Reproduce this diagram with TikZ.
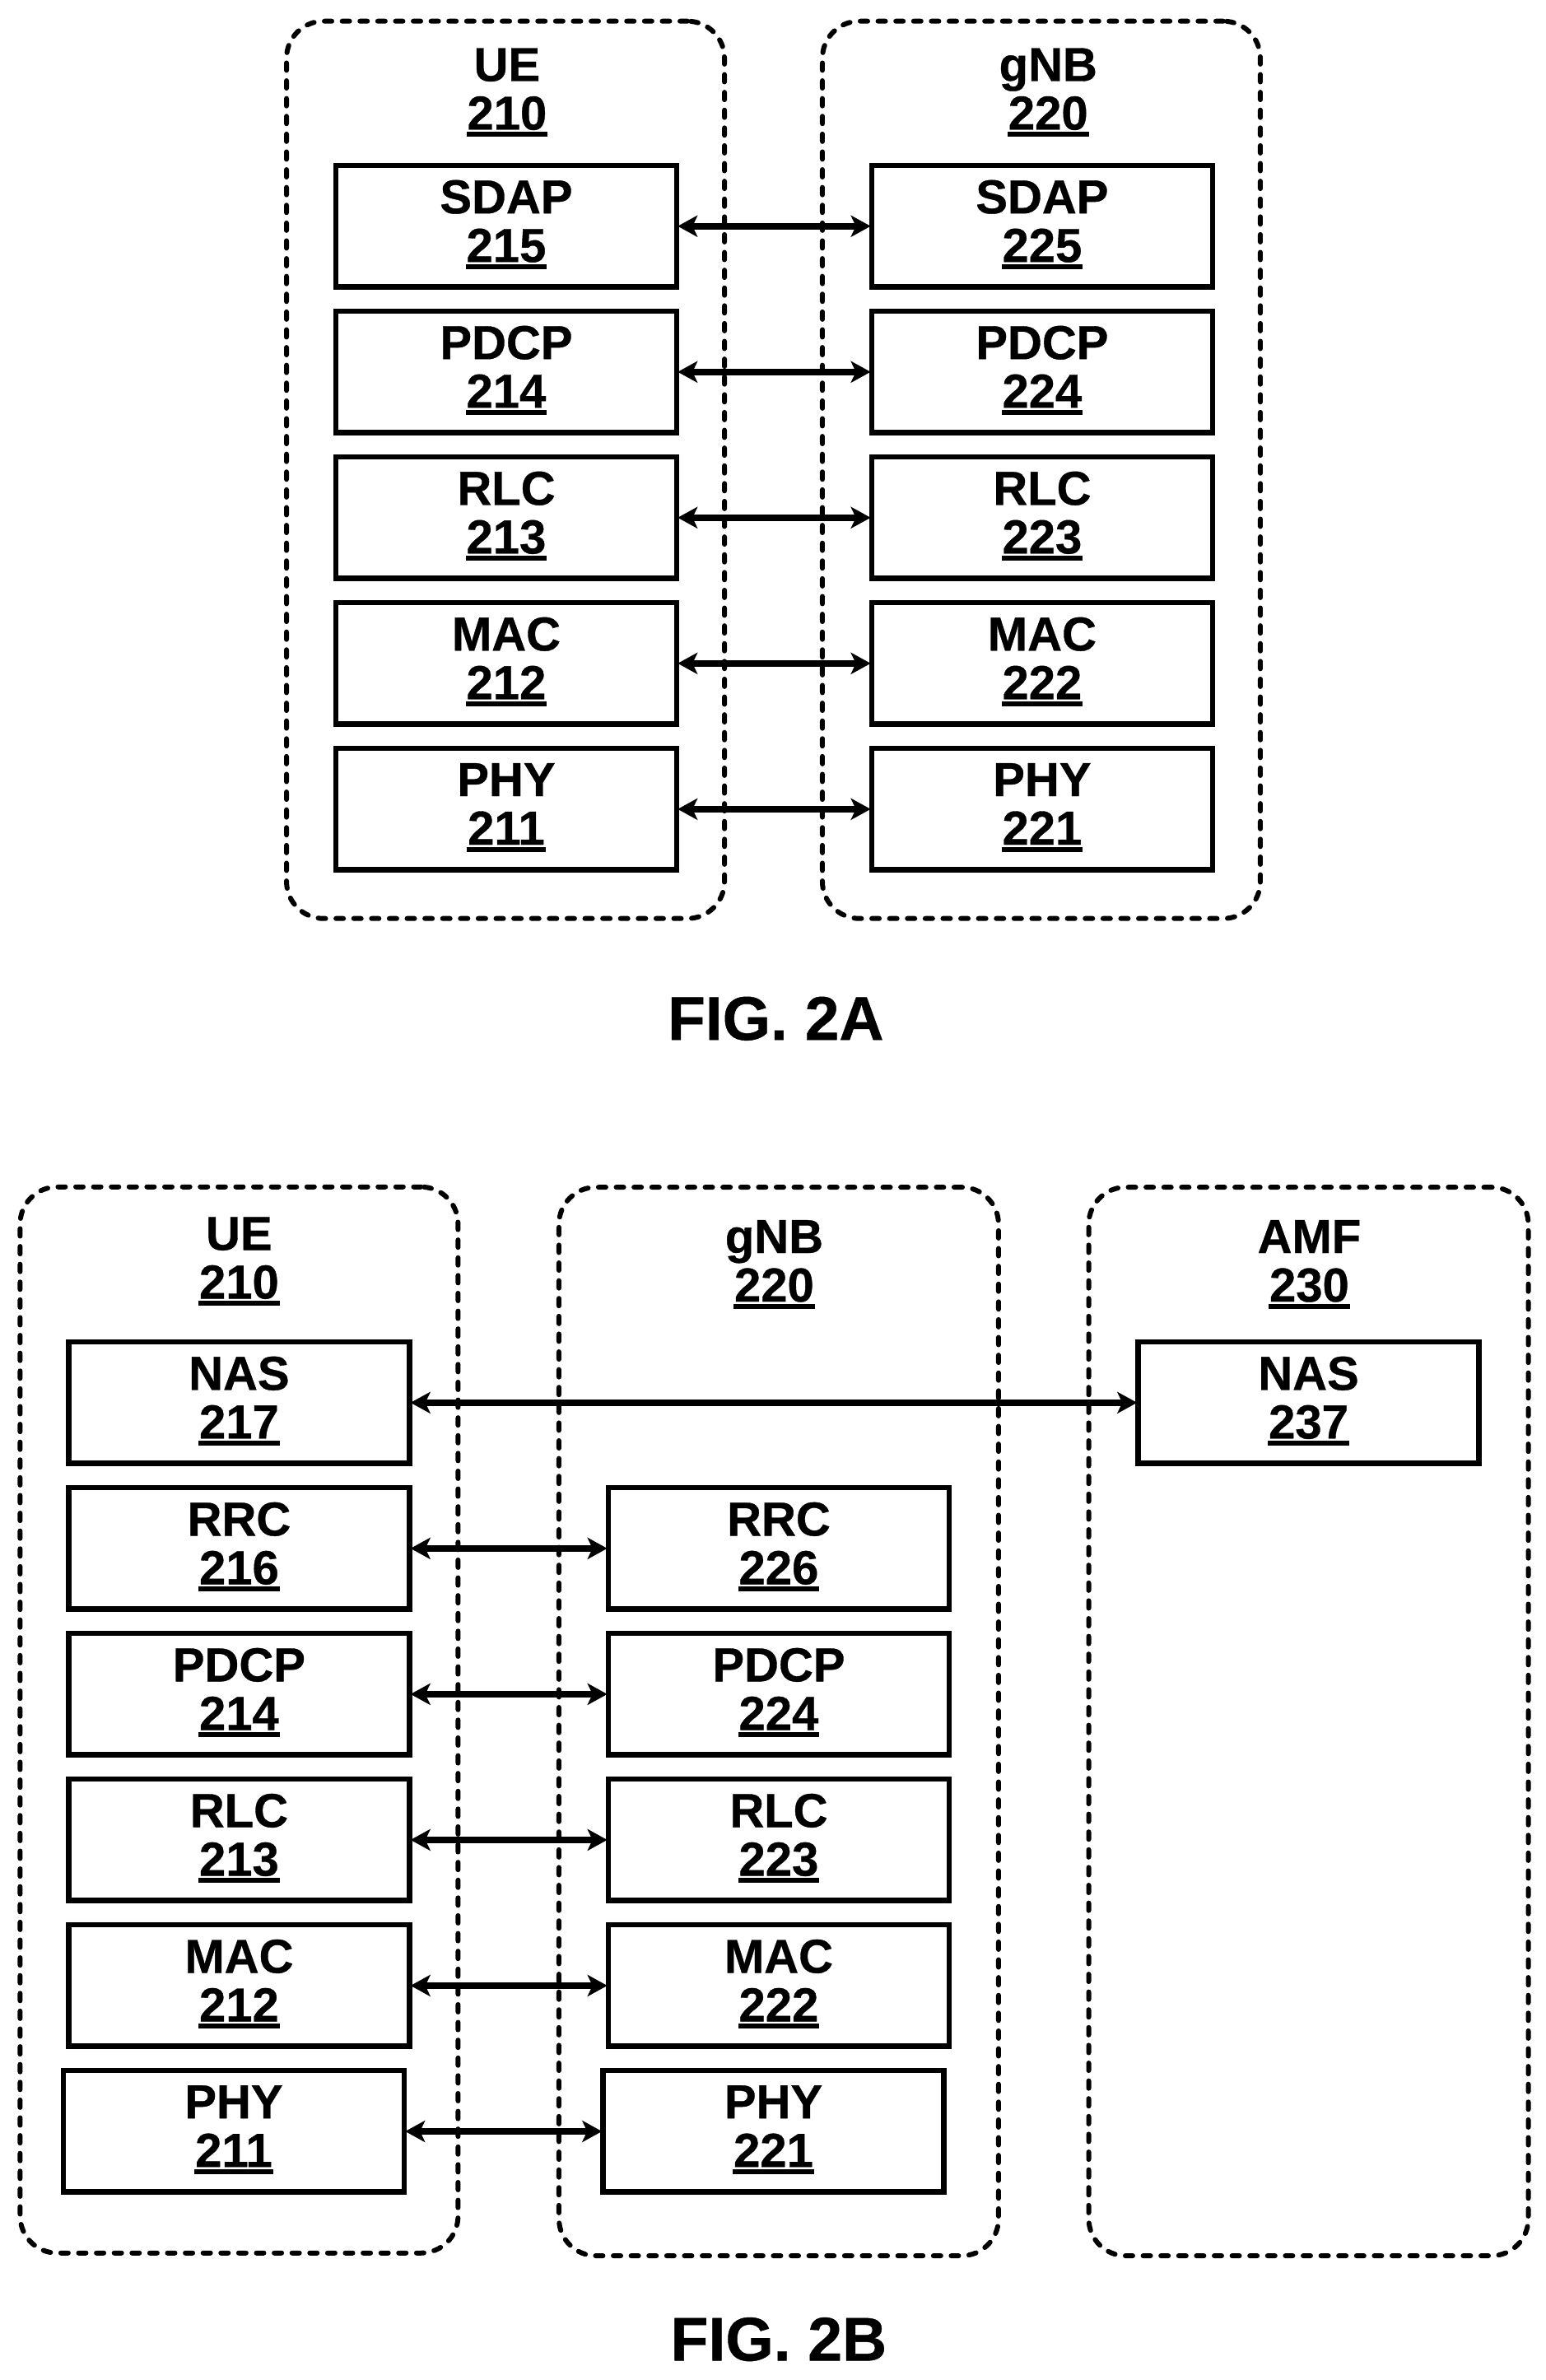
\documentclass[tikz,border=0pt]{standalone}
\usepackage{fontspec}
\setmainfont[BoldFeatures={FakeBold=0.6}]{Liberation Sans}
\usetikzlibrary{arrows.meta}
\newcommand\ulnum[1]{\setbox0\hbox{#1}\hbox{\rlap{\copy0}\rlap{\kern-1pt\lower9pt\hbox{\vrule width\dimexpr\wd0+2pt\relax height6pt depth0pt}}\kern\wd0\vrule width0pt depth12.6pt}}
\newcommand\lbl[2]{#1\\[0pt]\ulnum{#2}}
\tikzset{
  x=1.844pt,y=-1.844pt,
  base/.style={font=\bfseries\fontsize{58}{59}\selectfont,align=center,inner sep=0pt},
  group/.style={draw,rectangle,line width=6pt,rounded corners=45pt,dash pattern=on 9pt off 12.6pt,line cap=round,inner sep=0pt},
  blk/.style={base,draw,line width=6.5pt,rectangle,minimum width=414pt,minimum height=147.5pt,line join=miter},
  txt/.style={base},
  link/.style={line width=7.5pt,{Stealth[length=24pt,width=26pt,inset=6pt]}-{Stealth[length=24pt,width=26pt,inset=6pt]},shorten <=-2pt,shorten >=-2pt},
  figcap/.style={font=\bfseries\fontsize{75}{76}\selectfont,inner sep=0pt}
}
\begin{document}
\begin{tikzpicture}
\useasboundingbox (0,0) rectangle (1018.44,1567.8);
% FIG 2A groups
\node[group,minimum width=532pt,minimum height=1090pt] (ueA) at (333,309.5) {};
\node[group,minimum width=532pt,minimum height=1090pt] (gnbA) at (686,309.5) {};
\node[txt] (ueAt) at (334,62) {\lbl{UE}{210}};
\node[txt] (gnbAt) at (690.5,62) {\lbl{gNB}{220}};
% FIG 2A blocks
\node[blk] (a215) at (333.5,149) {\lbl{SDAP}{215}};
\node[blk] (a214) at (333.5,245) {\lbl{PDCP}{214}};
\node[blk] (a213) at (333.5,341) {\lbl{RLC}{213}};
\node[blk] (a212) at (333.5,437) {\lbl{MAC}{212}};
\node[blk] (a211) at (333.5,533) {\lbl{PHY}{211}};
\node[blk] (a225) at (686.5,149) {\lbl{SDAP}{225}};
\node[blk] (a224) at (686.5,245) {\lbl{PDCP}{224}};
\node[blk] (a223) at (686.5,341) {\lbl{RLC}{223}};
\node[blk] (a222) at (686.5,437) {\lbl{MAC}{222}};
\node[blk] (a221) at (686.5,533) {\lbl{PHY}{221}};
\foreach \u/\g in {a215/a225,a214/a224,a213/a223,a212/a222,a211/a221}
  \draw[link] (\u.east) -- (\g.west);
\node[figcap] (figA) at (511,671) {FIG. 2A};
% FIG 2B groups
\node[group,minimum width=532pt,minimum height=1295pt] (ueB) at (157.5,1133) {};
\node[group,minimum width=534pt,minimum height=1298pt] (gnbB) at (513,1134) {};
\node[group,minimum width=534pt,minimum height=1298pt] (amfB) at (862,1134) {};
\node[txt] (ueBt) at (157.5,832) {\lbl{UE}{210}};
\node[txt] (gnbBt) at (510,834) {\lbl{gNB}{220}};
\node[txt] (amfBt) at (862.5,834) {\lbl{AMF}{230}};
% FIG 2B blocks
\node[blk] (b217) at (157.5,924) {\lbl{NAS}{217}};
\node[blk] (b216) at (157.5,1020) {\lbl{RRC}{216}};
\node[blk] (b214) at (157.5,1116) {\lbl{PDCP}{214}};
\node[blk] (b213) at (157.5,1212) {\lbl{RLC}{213}};
\node[blk] (b212) at (157.5,1308) {\lbl{MAC}{212}};
\node[blk] (b211) at (154,1404) {\lbl{PHY}{211}};
\node[blk] (b226) at (513,1020) {\lbl{RRC}{226}};
\node[blk] (b224) at (513,1116) {\lbl{PDCP}{224}};
\node[blk] (b223) at (513,1212) {\lbl{RLC}{223}};
\node[blk] (b222) at (513,1308) {\lbl{MAC}{222}};
\node[blk] (b221) at (509.5,1404) {\lbl{PHY}{221}};
\node[blk] (b237) at (862,924) {\lbl{NAS}{237}};
\foreach \u/\g in {b217/b237,b216/b226,b214/b224,b213/b223,b212/b222,b211/b221}
  \draw[link] (\u.east) -- (\g.west);
\node[figcap] (figB) at (513,1541) {FIG. 2B};
\end{tikzpicture}
\end{document}
